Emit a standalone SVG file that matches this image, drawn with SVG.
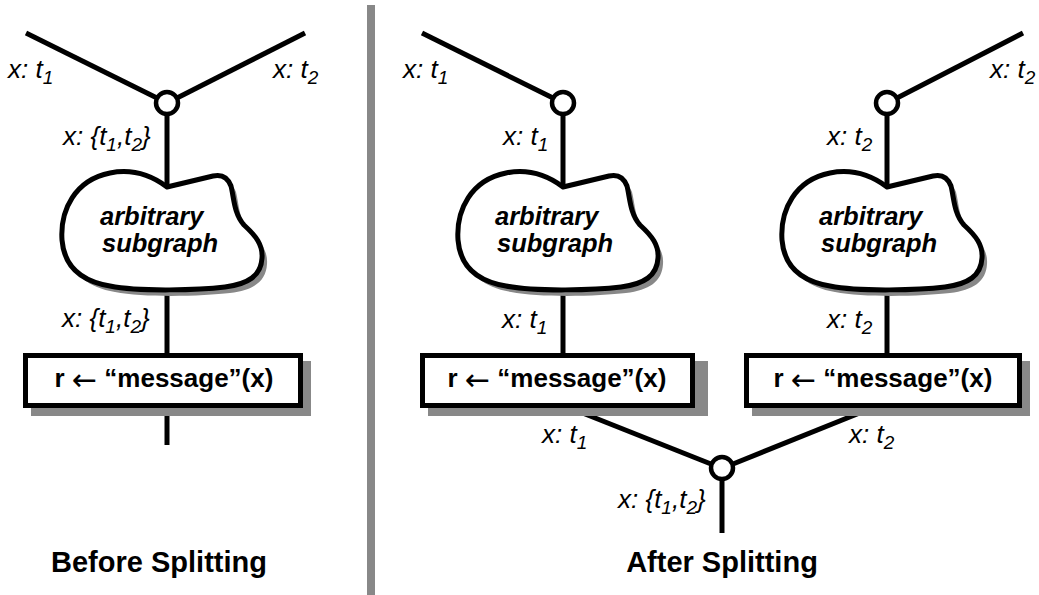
<svg xmlns="http://www.w3.org/2000/svg" width="1039" height="595" viewBox="0 0 1039 595">
<style>
.ln{stroke:#000;stroke-width:5;fill:none;stroke-linecap:butt}
.jn{fill:#fff;stroke:#000;stroke-width:4.5}
.lbl{font-family:"Liberation Sans",Arial,sans-serif;font-style:italic;font-size:26px;fill:#000}
.sub{font-size:19px}
.box{fill:#fff;stroke:#000;stroke-width:5}
.shadow{fill:#888;stroke:none}
.btxt{font-family:"Liberation Sans",Arial,sans-serif;font-weight:bold;font-size:26px;fill:#000;text-anchor:middle}
.arr{font-family:"DejaVu Sans",sans-serif;font-weight:normal;font-size:30px}
.blobtxt{font-family:"Liberation Sans",Arial,sans-serif;font-weight:bold;font-style:italic;font-size:25.5px;fill:#000}
.title{font-family:"Liberation Sans",Arial,sans-serif;font-weight:bold;font-size:29px;fill:#000;text-anchor:middle}
.blob{fill:#fff;stroke:#000;stroke-width:5;stroke-linejoin:round}
</style>
<defs>
<path id="blobshape" d="M0,0 L46,-11 C55,-13 61,-9 64,-1 C67,11 67,27 77,38 C89,49 96,58 95,71 C94,89 81,97 58,100 C33,103 -27,105 -57,99 C-87,94 -103,78 -105,53 C-107,23 -92,-7 -57,-14 C-32,-19 -12,-9 0,0 Z"/>
</defs>
<rect x="367" y="5" width="8" height="590" fill="#888"/>
<g id="connectors">
<line class="ln" x1="26" y1="33" x2="157" y2="98"/>
<line class="ln" x1="305" y1="33" x2="177" y2="98"/>
<line class="ln" x1="167" y1="114" x2="167" y2="187"/>
<line class="ln" x1="167" y1="287" x2="167" y2="353"/>
<line class="ln" x1="167" y1="408" x2="167" y2="445"/>
<line class="ln" x1="422" y1="33" x2="553" y2="98"/>
<line class="ln" x1="563" y1="114" x2="563" y2="187"/>
<line class="ln" x1="563" y1="287" x2="563" y2="353"/>
<line class="ln" x1="1023" y1="33" x2="897" y2="98"/>
<line class="ln" x1="887" y1="114" x2="887" y2="187"/>
<line class="ln" x1="887" y1="287" x2="887" y2="353"/>
<line class="ln" x1="570" y1="408" x2="711" y2="464"/>
<line class="ln" x1="872" y1="408" x2="733" y2="464"/>
<line class="ln" x1="722" y1="479" x2="722" y2="533"/>
</g>
<g id="join-before">
<circle class="jn" cx="167" cy="103" r="11"/>
<text class="lbl" x="8" y="78">x: t<tspan class="sub" dy="6">1</tspan></text>
<text class="lbl" x="273" y="78">x: t<tspan class="sub" dy="6">2</tspan></text>
<text class="lbl" x="63" y="145">x: {t<tspan class="sub" dy="6">1</tspan><tspan dy="-6">,t</tspan><tspan class="sub" dy="6">2</tspan><tspan dy="-6">}</tspan></text>
</g>
<g id="subgraph-before">
<use href="#blobshape" x="172" y="193" class="shadow"/>
<use href="#blobshape" x="167" y="187" class="blob"/>
<text class="blobtxt" x="100" y="225">arbitrary</text>
<text class="blobtxt" x="102" y="252">subgraph</text>
<text class="lbl" x="62" y="327">x: {t<tspan class="sub" dy="6">1</tspan><tspan dy="-6">,t</tspan><tspan class="sub" dy="6">2</tspan><tspan dy="-6">}</tspan></text>
</g>
<g id="message-before">
<rect class="shadow" x="31" y="361" width="280" height="55"/>
<rect class="box" x="25.5" y="355.5" width="275" height="50"/>
<text class="btxt" x="164" y="387">r <tspan class="arr" dy="3">←</tspan><tspan dy="-3"> “message”(x)</tspan></text>
</g>
<g id="join-left">
<circle class="jn" cx="563" cy="103" r="11"/>
<text class="lbl" x="403" y="78">x: t<tspan class="sub" dy="6">1</tspan></text>
<text class="lbl" x="503" y="145">x: t<tspan class="sub" dy="6">1</tspan></text>
</g>
<g id="subgraph-left">
<use href="#blobshape" x="568" y="193" class="shadow"/>
<use href="#blobshape" x="563" y="187" class="blob"/>
<text class="blobtxt" x="495" y="225">arbitrary</text>
<text class="blobtxt" x="497" y="252">subgraph</text>
<text class="lbl" x="502" y="328">x: t<tspan class="sub" dy="6">1</tspan></text>
</g>
<g id="message-left">
<rect class="shadow" x="428" y="361" width="280" height="55"/>
<rect class="box" x="422.5" y="355.5" width="270" height="50"/>
<text class="btxt" x="557" y="387">r <tspan class="arr" dy="3">←</tspan><tspan dy="-3"> “message”(x)</tspan></text>
</g>
<g id="join-right">
<circle class="jn" cx="887" cy="103" r="11"/>
<text class="lbl" x="990" y="78">x: t<tspan class="sub" dy="6">2</tspan></text>
<text class="lbl" x="827" y="145">x: t<tspan class="sub" dy="6">2</tspan></text>
</g>
<g id="subgraph-right">
<use href="#blobshape" x="892" y="193" class="shadow"/>
<use href="#blobshape" x="887" y="187" class="blob"/>
<text class="blobtxt" x="819" y="225">arbitrary</text>
<text class="blobtxt" x="821" y="252">subgraph</text>
<text class="lbl" x="827" y="328">x: t<tspan class="sub" dy="6">2</tspan></text>
</g>
<g id="message-right">
<rect class="shadow" x="752" y="361" width="278" height="55"/>
<rect class="box" x="746.5" y="355.5" width="273" height="50"/>
<text class="btxt" x="883" y="387">r <tspan class="arr" dy="3">←</tspan><tspan dy="-3"> “message”(x)</tspan></text>
</g>
<g id="merge">
<circle class="jn" cx="722" cy="468" r="11"/>
<text class="lbl" x="542" y="443">x: t<tspan class="sub" dy="6">1</tspan></text>
<text class="lbl" x="849" y="443">x: t<tspan class="sub" dy="6">2</tspan></text>
<text class="lbl" x="618" y="508">x: {t<tspan class="sub" dy="6">1</tspan><tspan dy="-6">,t</tspan><tspan class="sub" dy="6">2</tspan><tspan dy="-6">}</tspan></text>
</g>
<text class="title" x="159" y="572">Before Splitting</text>
<text class="title" x="722" y="572">After Splitting</text>
</svg>
